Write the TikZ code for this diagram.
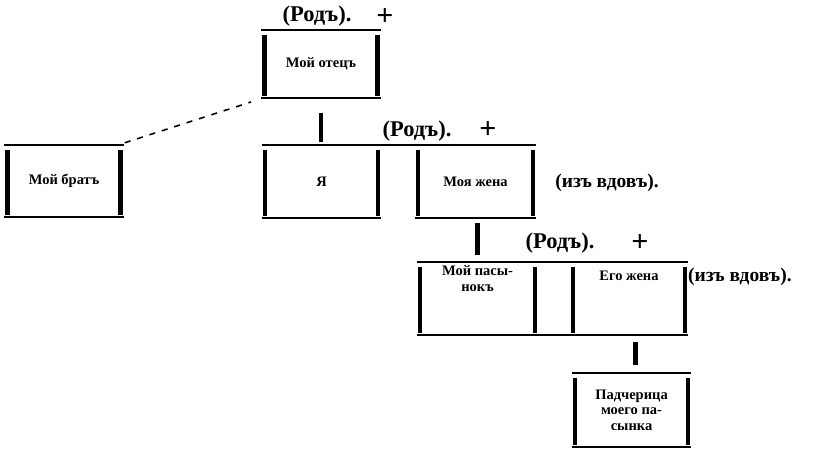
\documentclass[tikz,border=0pt]{standalone}
\usepackage{fontspec}
\setmainfont{Liberation Serif}

\begin{document}
\begin{tikzpicture}[x=1pt,y=-1pt,line cap=butt,
  every node/.style={inner sep=0pt,align=center,font=\fontsize{14.5}{15.5}\selectfont\bfseries},
  famrod/.style={minimum width=113pt,minimum height=72pt},
  hline/.style={line width=2pt,shorten <=-3pt,shorten >=-3pt},
  vbar/.style={line width=4.5pt,shorten <=5pt,shorten >=2pt},
  conn/.style={line width=4.5pt},
  rodlabel/.style={font=\fontsize{22.5}{22}\selectfont\bfseries},
  krest/.style={font=\fontsize{30}{30}\selectfont\bfseries},
  vdov/.style={font=\fontsize{19.5}{19}\selectfont\bfseries}]
  \useasboundingbox (0,0) rectangle (817,452);
  % родовые ячейки
  \node[famrod] (brat) at (64,181) {Мой братъ};
  \node[famrod,minimum height=68pt] (otec) at (321,64) {Мой отецъ};
  \node[famrod] (ya) at (321.5,181.5) {Я};
  \node[famrod,minimum width=115pt] (zhena) at (475.5,181.5) {Моя жена};
  \node[famrod,minimum width=115pt,minimum height=73pt] (pasynok) at (477.5,298.5) {};
  \node[famrod,minimum width=112pt,minimum height=73pt] (ego) at (629,298.5) {};
  \node[famrod,minimum height=74pt] (padch) at (631.5,410) {Падчерица\\моего па-\\сынка};
  \node (pasynok-t) at ([yshift=20pt]pasynok.center) {Мой пасы-\\нокъ};
  \node (ego-t) at ([yshift=23pt]ego.center) {Его жена};
  % верхние и нижние черты
  \foreach \n in {brat,otec,padch} {
    \draw[hline] (\n.north west) -- (\n.north east);
    \draw[hline] (\n.south west) -- (\n.south east);
  }
  \draw[hline] (ya.north west) -- (zhena.north east);
  \draw[hline] (ya.south west) -- (ya.south east);
  \draw[hline] (zhena.south west) -- (zhena.south east);
  \draw[hline] (pasynok.north west) -- (ego.north east);
  \draw[hline] (pasynok.south west) -- (ego.south east);
  % боковые черты
  \foreach \n in {brat,otec,ya,zhena,pasynok,ego,padch} {
    \draw[vbar] (\n.north west) -- (\n.south west);
    \draw[vbar] (\n.north east) -- (\n.south east);
  }
  % связи
  \draw[conn,shorten <=15pt,shorten >=3pt] (otec.south) -- (otec.south |- ya.north);
  \draw[conn,shorten <=5pt,shorten >=7pt] (pasynok.north |- zhena.south) -- (pasynok.north);
  \draw[conn,shorten <=7pt,shorten >=8pt] ([xshift=4pt]padch.north |- ego.south) -- ([xshift=4pt]padch.north);
  \coordinate (dash-end) at (251,102);
  \draw[line width=1.6pt,dash pattern=on 6pt off 7pt] ([xshift=4pt,yshift=2pt]brat.north east) -- (dash-end);
  % подписи
  \node[rodlabel] (rod1) at (317,16) {(Родъ).};
  \node[krest] (plus1) at (385,17) {+};
  \node[rodlabel] (rod2) at (417,131) {(Родъ).};
  \node[krest] (plus2) at (488,130) {+};
  \node[rodlabel] (rod3) at (560,243) {(Родъ).};
  \node[krest] (plus3) at (640,243) {+};
  \node[vdov] (vdov1) at (607,183) {(изъ вдовъ).};
  \node[vdov,anchor=west] (vdov2) at (688,277) {(изъ вдовъ).};
\end{tikzpicture}
\end{document}
